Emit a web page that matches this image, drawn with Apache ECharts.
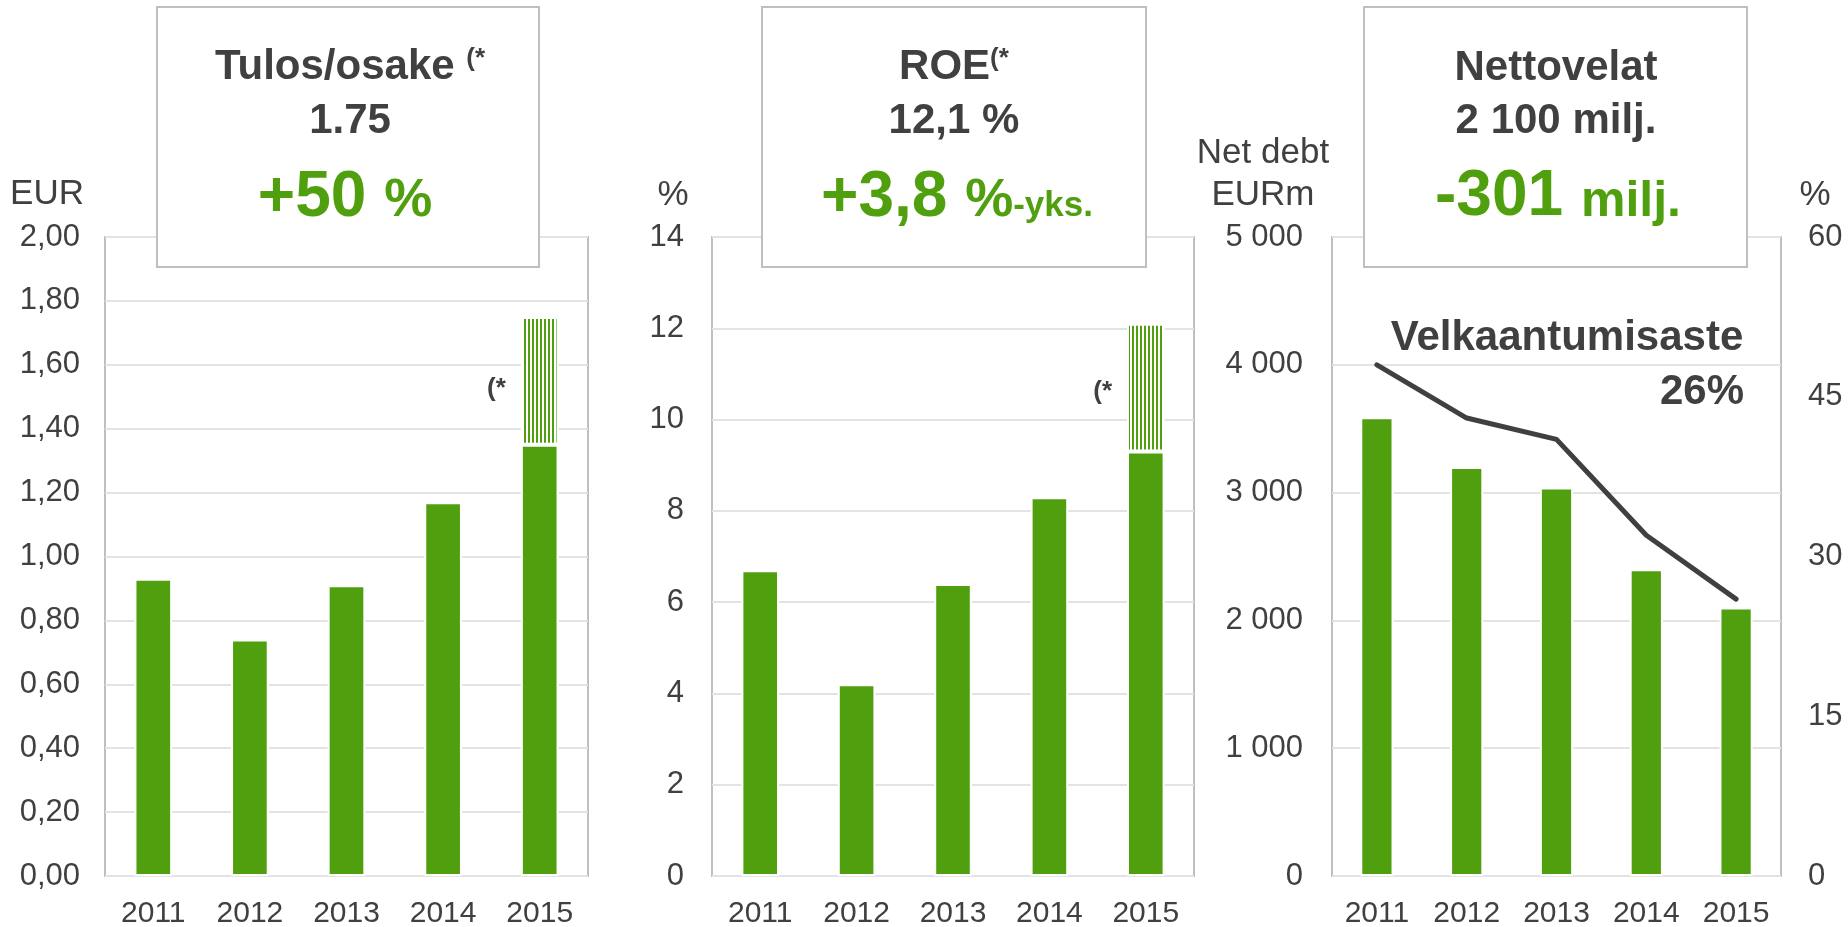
<!DOCTYPE html>
<html>
<head>
<meta charset="utf-8">
<title>Tulos/osake, ROE ja nettovelat 2011–2015</title>
<script src="https://cdn.jsdelivr.net/npm/echarts@6/dist/echarts.min.js"></script>
<style>
  html, body { margin: 0; padding: 0; background: #fff; }
  #chart { width: 1848px; height: 927px; }
</style>
</head>
<body>
<div id="chart"></div>
<script>
// --- data ---
const years = ['2011', '2012', '2013', '2014', '2015'];
const eps = [0.93, 0.74, 0.91, 1.17, 1.35];      // vertailukelpoinen
const epsItems = ['-', '-', '-', '-', 0.40];     // (* raportoitu 1.75
const roe = [6.7, 4.2, 6.4, 8.3, 9.3];
const roeItems = ['-', '-', '-', '-', 2.8];      // (* raportoitu 12,1 %
const netDebt = [3590, 3200, 3040, 2401, 2100];
const gearing = [48, 43, 41, 32, 26];            // velkaantumisaste %

const GREEN = '#4f9f0e';
const TEXT = '#404040';
const FONT = '"Liberation Sans", Arial, sans-serif';

// vertical stripes for the (* part of the bars
const stripe = document.createElement('canvas');
stripe.width = 4; stripe.height = 4;
const sctx = stripe.getContext('2d');
sctx.fillStyle = '#fff'; sctx.fillRect(0, 0, 4, 4);
sctx.fillStyle = GREEN; sctx.fillRect(0, 0, 2, 4);

const comma2 = v => v.toFixed(2).replace('.', ',');
const spaced = v => String(v).replace(/\B(?=(\d{3})+(?!\d))/g, ' ');

function grid(left, right) {
    return { left: left, right: right, top: 237, bottom: 51, show: true,
             borderColor: '#bfbfbf', borderWidth: 2, outerBoundsMode: 'none' };
}
function xAx(i) {
    return { type: 'category', gridIndex: i, data: years,
             axisLine: { show: false }, axisTick: { show: false },
             axisLabel: { color: TEXT, fontSize: 30, fontFamily: FONT, margin: 23 } };
}
function yAx(i, max, step, fmt, margin) {
    return { type: 'value', gridIndex: i, min: 0, max: max, interval: step,
             axisLine: { show: false }, axisTick: { show: false },
             axisLabel: { color: TEXT, fontSize: 31, fontFamily: FONT, margin: margin, formatter: fmt },
             splitLine: { lineStyle: { color: '#e3e3e3', width: 2 } } };
}

const barStyle = { color: GREEN, borderColor: '#fff', borderWidth: 2 };
const stripeStyle = { color: { image: stripe, repeat: 'repeat' }, borderColor: '#fff', borderWidth: 2 };
function starLabel(dy) {
    return { show: true, position: 'left', distance: 15, offset: [0, dy], formatter: '(*',
             color: TEXT, fontSize: 26, fontWeight: 'bold', fontFamily: FONT };
}

function txt(x, y, text, rich, align) {
    return { type: 'text', x: x, y: y, z: 101,
             style: { text: text, rich: rich, align: align || 'center', verticalAlign: 'middle',
                      fill: TEXT, fontFamily: FONT, fontSize: 35 } };
}
function box(x, w) {
    return { type: 'rect', z: 100, shape: { x: x, y: 7, width: w, height: 260 },
             style: { fill: '#fff', stroke: '#bfbfbf', lineWidth: 2 } };
}
const R = {
    h: { fontSize: 42, fontWeight: 'bold', fontFamily: FONT, fill: TEXT },
    sup: { fontSize: 26, fontWeight: 'bold', fontFamily: FONT, fill: TEXT, verticalAlign: 'top' },
    big: { fontSize: 64, fontWeight: 'bold', fontFamily: FONT, fill: GREEN, verticalAlign: 'bottom' },
    mid: { fontSize: 54, fontWeight: 'bold', fontFamily: FONT, fill: GREEN, verticalAlign: 'bottom', padding: [0, 0, 2, 0] },
    mj: { fontSize: 50, fontWeight: 'bold', fontFamily: FONT, fill: GREEN, verticalAlign: 'bottom', padding: [0, 0, 2, 0] },
    sm: { fontSize: 35, fontWeight: 'bold', fontFamily: FONT, fill: GREEN, verticalAlign: 'bottom', padding: [0, 0, 6, 0] }
};

const chart = echarts.init(document.getElementById('chart'));
chart.setOption({
    animation: false,
    backgroundColor: '#fff',
    grid: [grid(105, 1260), grid(712, 654), grid(1332, 67)],
    xAxis: [xAx(0), xAx(1), xAx(2)],
    yAxis: [
        yAx(0, 2, 0.2, comma2, 25),
        yAx(1, 14, 2, null, 28),
        yAx(2, 5000, 1000, spaced, 29),
        Object.assign(yAx(2, 60, 15, null, 27), { position: 'right', splitLine: { show: false } })
    ],
    series: [
        { type: 'bar', name: 'Tulos/osake', xAxisIndex: 0, yAxisIndex: 0, stack: 'eps',
          data: eps, barWidth: '39%', itemStyle: barStyle },
        { type: 'bar', name: 'Tulos/osake (*', xAxisIndex: 0, yAxisIndex: 0, stack: 'eps',
          data: epsItems, barWidth: '39%', itemStyle: stripeStyle, label: starLabel(8) },
        { type: 'bar', name: 'ROE', xAxisIndex: 1, yAxisIndex: 1, stack: 'roe',
          data: roe, barWidth: '39%', itemStyle: barStyle },
        { type: 'bar', name: 'ROE (*', xAxisIndex: 1, yAxisIndex: 1, stack: 'roe',
          data: roeItems, barWidth: '39%', itemStyle: stripeStyle, label: starLabel(4) },
        { type: 'bar', name: 'Nettovelat', xAxisIndex: 2, yAxisIndex: 2,
          data: netDebt, barWidth: '37%', itemStyle: barStyle },
        { type: 'line', name: 'Velkaantumisaste', xAxisIndex: 2, yAxisIndex: 3, z: 5,
          data: gearing, symbol: 'none', lineStyle: { color: TEXT, width: 5, cap: 'round', join: 'round' } }
    ],
    graphic: [
        box(157, 382), box(762, 384), box(1364, 383),
        // unit labels
        txt(47, 194, 'EUR'),
        txt(673, 195, '%'),
        txt(1263, 153, 'Net debt'),
        txt(1263, 195, 'EURm'),
        txt(1815, 195, '%'),
        // box 1
        txt(350, 67, '{h|Tulos/osake }{sup|(*}', R),
        txt(350, 121, '{h|1.75}', R),
        txt(345, 198, '{big|+50 }{mid|%}', R),
        // box 2
        txt(954, 67, '{h|ROE}{sup|(*}', R),
        txt(954, 121, '{h|12,1 %}', R),
        txt(957, 198, '{big|+3,8 }{mid|%}{sm|-yks.}', R),
        // box 3
        txt(1556, 68, '{h|Nettovelat}', R),
        txt(1556, 121, '{h|2 100 milj.}', R),
        txt(1558, 197, '{big|-301 }{mj|milj.}', R),
        // gearing note
        txt(1567, 338, '{h|Velkaantumisaste}', R),
        txt(1744, 392, '{h|26%}', R, 'right')
    ]
});
</script>
</body>
</html>
